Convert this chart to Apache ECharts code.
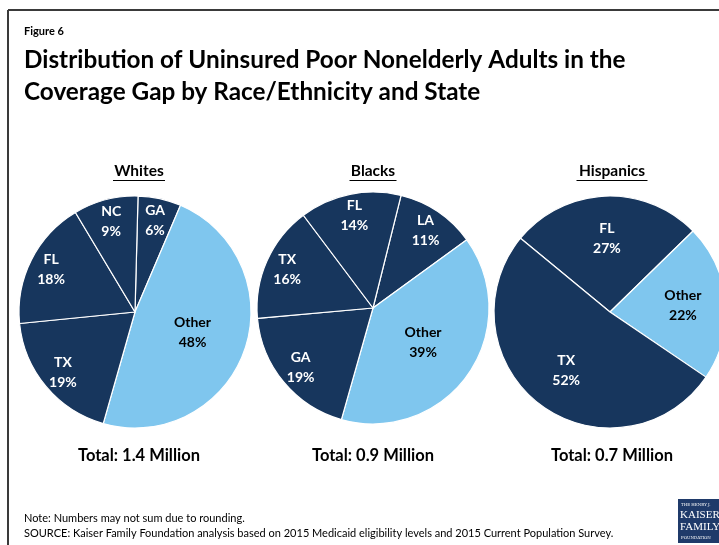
<!DOCTYPE html>
<html>
<head>
<meta charset="utf-8">
<script src="https://cdn.jsdelivr.net/npm/echarts@6/dist/echarts.min.js"></script>
<style>
  html, body { margin: 0; padding: 0; background: #fff; }
  #chart { width: 719px; height: 545px; }
</style>
</head>
<body>
<div id="chart"></div>
<script>
// Share of uninsured poor nonelderly adults in the coverage gap, by state
const groupNames = ['Whites', 'Blacks', 'Hispanics'];
const groupTotals = ['Total: 1.4 Million', 'Total: 0.9 Million', 'Total: 0.7 Million'];

const whitesStates = ['GA', 'Other', 'TX', 'FL', 'NC'];
const whitesShares = [6, 48, 19, 18, 9];

const blacksStates = ['LA', 'Other', 'GA', 'TX', 'FL'];
const blacksShares = [11, 39, 19, 16, 14];

const hispanicsStates = ['FL', 'Other', 'TX'];
const hispanicsShares = [27, 22, 52];

// Layout and styling
const NAVY = '#17365d';
const LIGHT = '#7fc6ee';
const FONT = 'Lato, "Open Sans", sans-serif';
const RADIUS = 116;
const pieCenters = [[135, 312], [373, 308], [610, 312]];
const textCenters = [139, 373, 612];
const startAngles = [88.5, 76, 140.5];
// label distance from center, as a fraction of the radius
const labelRadius = [
  { dark: 0.77, other: 0.5 },
  { dark: 0.77, other: 0.5 },
  { dark: 0.6, other: 0.6 }
];

const groups = [
  { states: whitesStates, shares: whitesShares },
  { states: blacksStates, shares: blacksShares },
  { states: hispanicsStates, shares: hispanicsShares }
];

const chart = echarts.init(document.getElementById('chart'), null, { renderer: 'canvas' });

const series = groups.map((g, gi) => {
  const c = pieCenters[gi];
  return {
    type: 'pie',
    center: c,
    radius: [0, RADIUS],
    startAngle: startAngles[gi],
    clockwise: true,
    animation: false,
    silent: true,
    itemStyle: { borderColor: '#ffffff', borderWidth: 1.2 },
    label: {
      show: true,
      position: 'inside',
      fontFamily: FONT,
      fontWeight: 'bold',
      fontSize: 14,
      lineHeight: 20,
      align: 'center',
      verticalAlign: 'middle',
      formatter: p => p.name + '\n' + p.value + '%'
    },
    labelLine: { show: false },
    labelLayout: params => {
      const r = labelRadius[gi];
      const isOther = g.states[params.dataIndex] === 'Other';
      const k = (isOther ? r.other : r.dark) / 0.5;
      const lx = params.labelRect.x + params.labelRect.width / 2;
      const ly = params.labelRect.y + params.labelRect.height / 2;
      return { x: c[0] + (lx - c[0]) * k, y: c[1] + (ly - c[1]) * k };
    },
    data: g.states.map((s, i) => ({
      name: s,
      value: g.shares[i],
      itemStyle: { color: s === 'Other' ? LIGHT : NAVY },
      label: { color: s === 'Other' ? '#000000' : '#ffffff' }
    }))
  };
});

const headings = groupNames.map((name, gi) => ({
  type: 'text',
  style: {
    text: name,
    x: textCenters[gi],
    y: 171,
    align: 'center',
    verticalAlign: 'middle',
    font: 'bold 15.5px ' + FONT,
    fill: '#000000'
  }
}));

const underlineWidths = [52, 47, 71];
const underlines = groupNames.map((name, gi) => {
  const w = underlineWidths[gi];
  const x = textCenters[gi];
  return {
    type: 'line',
    shape: { x1: x - w / 2, y1: 180.5, x2: x + w / 2, y2: 180.5 },
    style: { stroke: '#000000', lineWidth: 1 }
  };
});

const totals = groupTotals.map((t, gi) => ({
  type: 'text',
  style: {
    text: t,
    x: textCenters[gi],
    y: 456,
    align: 'center',
    verticalAlign: 'middle',
    font: 'bold 16.5px ' + FONT,
    fill: '#000000'
  }
}));

chart.setOption({
  backgroundColor: '#ffffff',
  series: series,
  graphic: [
    // slide frame
    { type: 'line', shape: { x1: 8, y1: 10, x2: 719, y2: 10 }, style: { stroke: '#3a3a3a', lineWidth: 2 } },
    { type: 'line', shape: { x1: 8, y1: 10, x2: 8, y2: 545 }, style: { stroke: '#3a3a3a', lineWidth: 2 } },
    { type: 'text', style: { text: 'Figure 6', x: 24, y: 31, verticalAlign: 'middle', font: 'bold 11px ' + FONT, fill: '#000' } },
    { type: 'text', style: { text: 'Distribution of Uninsured Poor Nonelderly Adults in the', x: 24, y: 60, verticalAlign: 'middle', font: 'bold 24.3px ' + FONT, fill: '#000' } },
    { type: 'text', style: { text: 'Coverage Gap by Race/Ethnicity and State', x: 24, y: 92, verticalAlign: 'middle', font: 'bold 24.3px ' + FONT, fill: '#000' } },
    ...headings,
    ...underlines,
    ...totals,
    { type: 'text', style: { text: 'Note: Numbers may not sum due to rounding.', x: 24, y: 518, verticalAlign: 'middle', font: '11px ' + FONT, fill: '#000' } },
    { type: 'text', style: { text: 'SOURCE: Kaiser Family Foundation analysis based on 2015 Medicaid eligibility levels and 2015 Current Population Survey.', x: 24, y: 533, verticalAlign: 'middle', font: '11px ' + FONT, fill: '#000' } },
    // foundation logo
    { type: 'rect', shape: { x: 678, y: 499, width: 45, height: 44 }, style: { fill: '#1f3a6a' } },
    { type: 'text', style: { text: 'THE HENRY J.', x: 681, y: 505, verticalAlign: 'middle', font: '4px "DejaVu Serif", serif', fill: '#ffffff' } },
    { type: 'text', style: { text: 'KAISER', x: 680, y: 515, verticalAlign: 'middle', font: '11px "Liberation Serif", serif', fill: '#ffffff' } },
    { type: 'text', style: { text: 'FAMILY', x: 680, y: 527, verticalAlign: 'middle', font: '11px "Liberation Serif", serif', fill: '#ffffff' } },
    { type: 'text', style: { text: 'FOUNDATION', x: 681, y: 538, verticalAlign: 'middle', font: '4px "DejaVu Serif", serif', fill: '#ffffff' } }
  ]
});
</script>
</body>
</html>
